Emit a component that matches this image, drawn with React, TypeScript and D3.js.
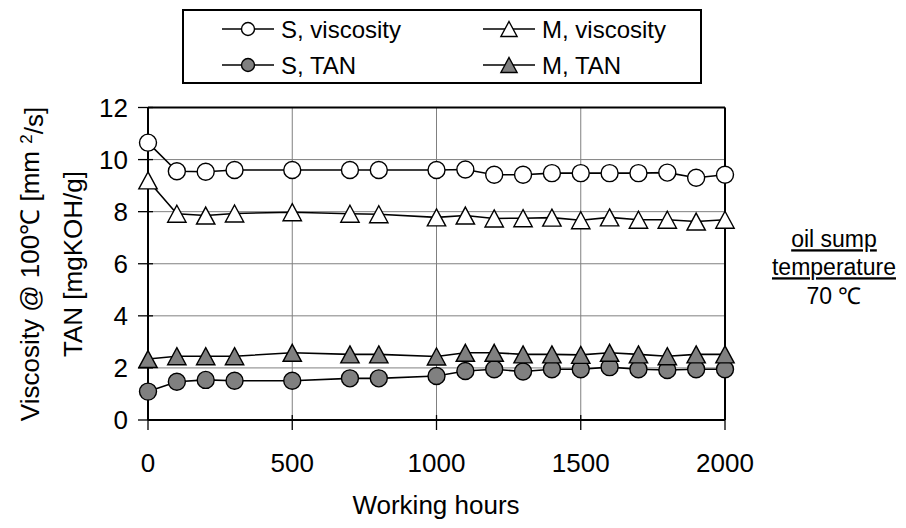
import * as d3 from 'd3';

const hours = [0, 100, 200, 300, 500, 700, 800, 1000, 1100, 1200, 1300, 1400, 1500, 1600, 1700, 1800, 1900, 2000];
const sVisc = [10.65, 9.55, 9.53, 9.6, 9.6, 9.6, 9.6, 9.6, 9.62, 9.42, 9.42, 9.48, 9.48, 9.48, 9.48, 9.5, 9.3, 9.42];
const mVisc = [9.2, 7.92, 7.85, 7.93, 7.98, 7.92, 7.9, 7.78, 7.85, 7.74, 7.75, 7.77, 7.67, 7.78, 7.69, 7.69, 7.62, 7.69];
const sTan = [1.09, 1.47, 1.54, 1.51, 1.51, 1.6, 1.6, 1.69, 1.88, 1.95, 1.86, 1.95, 1.95, 2.03, 1.95, 1.92, 1.95, 1.95];
const mTan = [2.34, 2.45, 2.45, 2.45, 2.58, 2.52, 2.52, 2.44, 2.58, 2.58, 2.52, 2.52, 2.5, 2.58, 2.52, 2.45, 2.52, 2.52];

const xTicks = [0, 500, 1000, 1500, 2000];
const yTicks = [0, 2, 4, 6, 8, 10, 12];

type Shape = 'circle' | 'triangle';
const series = [
  { name: 'S, viscosity', values: sVisc, shape: 'circle' as Shape, fill: '#ffffff' },
  { name: 'M, viscosity', values: mVisc, shape: 'triangle' as Shape, fill: '#ffffff' },
  { name: 'S, TAN', values: sTan, shape: 'circle' as Shape, fill: '#808080' },
  { name: 'M, TAN', values: mTan, shape: 'triangle' as Shape, fill: '#808080' },
];

const font = '"Liberation Sans", Arial, sans-serif';

function Marker({ shape, x, y, size, fill }: { shape: Shape; x: number; y: number; size: number; fill: string }) {
  if (shape === 'circle') {
    return <circle cx={x} cy={y} r={size / 2} fill={fill} stroke="#000" strokeWidth={1.4} />;
  }
  const w = size * 1.08;
  const h = size;
  const pts = `${x},${y - h / 2} ${x + w / 2},${y + h / 2} ${x - w / 2},${y + h / 2}`;
  return <polygon points={pts} fill={fill} stroke="#000" strokeWidth={1.4} strokeLinejoin="miter" />;
}

export default function App() {
  const width = 906;
  const height = 528;
  const plot = { left: 148, right: 725, top: 107.5, bottom: 420 };

  const x = d3.scaleLinear().domain([0, 2000]).range([plot.left, plot.right]);
  const y = d3.scaleLinear().domain([0, 12]).range([plot.bottom, plot.top]);

  const line = (vals: number[]) =>
    d3
      .line<number>()
      .x((_, i) => x(hours[i]))
      .y((d) => y(d))(vals) ?? '';

  const legendCols = [222, 483];
  const legendRows = [29, 65];

  return (
    <svg
      width={width}
      height={height}
      style={{ position: 'absolute', left: 0, top: 0, background: '#fff' }}
      fontFamily={font}
    >
      {/* gridlines */}
      {yTicks.map((t) => (
        <line key={'gy' + t} x1={plot.left} x2={plot.right} y1={y(t)} y2={y(t)} stroke="#808080" strokeWidth={1} />
      ))}
      {xTicks.map((t) => (
        <line key={'gx' + t} x1={x(t)} x2={x(t)} y1={plot.top} y2={plot.bottom} stroke="#808080" strokeWidth={1} />
      ))}

      {/* plot frame */}
      <line x1={plot.left} x2={plot.right} y1={plot.top} y2={plot.top} stroke="#000" strokeWidth={2} />
      <line x1={plot.right} x2={plot.right} y1={plot.top} y2={plot.bottom} stroke="#000" strokeWidth={2} />
      <line x1={plot.left} x2={plot.left} y1={plot.top} y2={plot.bottom} stroke="#000" strokeWidth={2} />
      <line x1={plot.left} x2={plot.right} y1={plot.bottom} y2={plot.bottom} stroke="#000" strokeWidth={2} />

      {/* ticks */}
      {yTicks.map((t) => (
        <g key={'ty' + t}>
          <line x1={plot.left - 10} x2={plot.left + 5} y1={y(t)} y2={y(t)} stroke="#000" strokeWidth={1.3} />
          <text x={plot.left - 20} y={y(t)} dy="0.36em" textAnchor="end" fontSize={26}>
            {t}
          </text>
        </g>
      ))}
      {xTicks.map((t) => (
        <g key={'tx' + t}>
          <line x1={x(t)} x2={x(t)} y1={plot.bottom - 5} y2={plot.bottom + 10} stroke="#000" strokeWidth={1.3} />
          <text x={x(t)} y={463} dy="0.36em" textAnchor="middle" fontSize={26}>
            {t}
          </text>
        </g>
      ))}

      {/* series */}
      {series.map((s) => (
        <g key={s.name}>
          <path d={line(s.values)} fill="none" stroke="#000" strokeWidth={1.6} />
          {s.values.map((v, i) => (
            <Marker key={i} shape={s.shape} x={x(hours[i])} y={y(v)} size={17} fill={s.fill} />
          ))}
        </g>
      ))}

      {/* axis titles */}
      <text x={436} y={505} dy="0.36em" textAnchor="middle" fontSize={26}>
        Working hours
      </text>
      <g transform={`translate(30, 264) rotate(-90)`}>
        <text x={0} y={0} dy="0.36em" textAnchor="middle" fontSize={26}>
          Viscosity @ 100℃ [mm <tspan dy="-0.45em" fontSize={17}>2</tspan>
          <tspan dy="0.45em">/s]</tspan>
        </text>
      </g>
      <g transform={`translate(73, 264) rotate(-90)`}>
        <text x={0} y={0} dy="0.36em" textAnchor="middle" fontSize={26}>
          TAN [mgKOH/g]
        </text>
      </g>

      {/* legend */}
      <rect x={183} y={10} width={518} height={73} fill="#fff" stroke="#000" strokeWidth={2} />
      {series.map((s, i) => {
        const cx = legendCols[i % 2];
        const cy = legendRows[Math.floor(i / 2)];
        return (
          <g key={'lg' + s.name}>
            <line x1={cx} x2={cx + 52} y1={cy} y2={cy} stroke="#000" strokeWidth={1.6} />
            <Marker shape={s.shape} x={cx + 26} y={cy} size={s.shape === 'circle' ? 13 : 15} fill={s.fill} />
            <text x={cx + 59} y={cy} dy="0.36em" fontSize={24}>
              {s.name}
            </text>
          </g>
        );
      })}

      {/* annotation */}
      <g fontSize={23} textAnchor="middle">
        <text x={834} y={239} dy="0.36em" textDecoration="underline">
          oil sump
        </text>
        <text x={834} y={267} dy="0.36em" textDecoration="underline">
          temperature
        </text>
        <text x={834} y={296} dy="0.36em">
          70 ℃
        </text>
      </g>
    </svg>
  );
}
